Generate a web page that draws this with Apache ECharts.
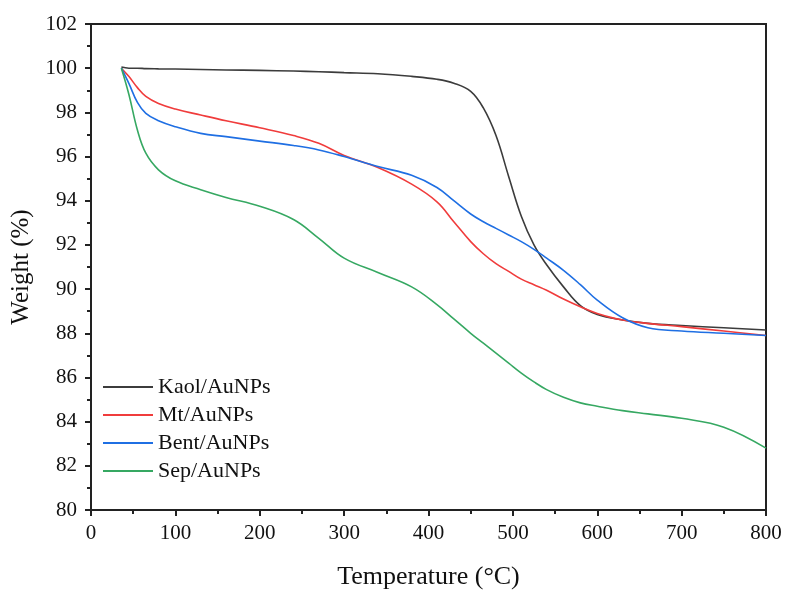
<!DOCTYPE html>
<html lang="en">
<head>
    <meta charset="UTF-8">
    <title>TGA</title>
    <script src="https://cdn.jsdelivr.net/npm/echarts@6/dist/echarts.min.js"></script>
    <style>
        html, body { margin: 0; padding: 0; background: #fff; }
        #main { width: 787px; height: 595px; }
    </style>
</head>
<body>
<div id="main"></div>
<script>
// temperature (°C) shared by all curves
var temps = [36, 45, 55, 65, 80, 100, 130, 160, 200, 240, 270, 300, 340, 380, 410, 430, 450, 465, 480, 495, 510, 525, 540, 560, 580, 600, 630, 660, 700, 750, 800];
// weight (%)
var kaol = [100.05, 100.0, 100.0, 99.98, 99.97, 99.96, 99.94, 99.92, 99.9, 99.87, 99.84, 99.8, 99.75, 99.63, 99.5, 99.32, 98.95, 98.2, 96.95, 95.1, 93.3, 92.0, 91.1, 90.1, 89.25, 88.85, 88.6, 88.45, 88.35, 88.25, 88.15];
var mt   = [100.0, 99.62, 99.12, 98.72, 98.4, 98.15, 97.88, 97.62, 97.3, 96.95, 96.6, 96.05, 95.5, 94.75, 93.95, 93.05, 92.15, 91.6, 91.15, 90.8, 90.45, 90.2, 89.95, 89.55, 89.2, 88.9, 88.6, 88.45, 88.3, 88.1, 87.9];
var bent = [100.0, 99.3, 98.45, 97.95, 97.62, 97.35, 97.05, 96.9, 96.7, 96.5, 96.3, 96.0, 95.55, 95.15, 94.6, 94.0, 93.4, 93.05, 92.75, 92.45, 92.15, 91.8, 91.4, 90.85, 90.2, 89.5, 88.7, 88.25, 88.1, 88.0, 87.9];
var sep  = [100.0, 98.8, 97.2, 96.15, 95.4, 94.9, 94.5, 94.15, 93.75, 93.15, 92.3, 91.4, 90.75, 90.1, 89.3, 88.65, 88.0, 87.55, 87.1, 86.65, 86.2, 85.8, 85.45, 85.1, 84.85, 84.7, 84.5, 84.35, 84.15, 83.75, 82.8];

var names = ['Kaol/AuNPs', 'Mt/AuNPs', 'Bent/AuNPs', 'Sep/AuNPs'];
var colors = ['#3c3c3c', '#f03c3c', '#1f6fe3', '#36a862'];

function pairs(ys) {
    var out = [];
    for (var i = 0; i < temps.length; i++) { out.push([temps[i], ys[i]]); }
    return out;
}

var font = 'Liberation Serif';
var allData = [kaol, mt, bent, sep];
var series = [];
for (var i = 0; i < names.length; i++) {
    series.push({
        name: names[i],
        type: 'line',
        data: pairs(allData[i]),
        smooth: 0.4,
        showSymbol: false,
        lineStyle: { width: 1.6, color: colors[i] },
        itemStyle: { color: colors[i] }
    });
}

var chart = echarts.init(document.getElementById('main'));
chart.setOption({
    animation: false,
    grid: { left: 91, right: 21, top: 24, bottom: 85, show: true, borderColor: '#222', borderWidth: 2 },
    legend: {
        data: names,
        orient: 'vertical',
        left: 98,
        top: 371,
        itemWidth: 50,
        itemHeight: 2,
        itemGap: 6,
        icon: 'rect',
        textStyle: { fontFamily: font, fontSize: 22, color: '#111' }
    },
    xAxis: {
        type: 'value',
        min: 0, max: 800, interval: 100,
        name: 'Temperature (°C)',
        nameLocation: 'middle',
        nameGap: 54,
        nameTextStyle: { fontFamily: font, fontSize: 26, color: '#111' },
        axisLine: { lineStyle: { color: '#222', width: 2 } },
        axisTick: { inside: false, length: 6, lineStyle: { width: 2, color: '#222' } },
        minorTick: { show: true, splitNumber: 2, length: 4, lineStyle: { width: 2, color: '#222' } },
        axisLabel: { fontFamily: font, fontSize: 21, color: '#111', margin: 13 },
        splitLine: { show: false }
    },
    yAxis: {
        type: 'value',
        min: 80, max: 102, interval: 2,
        name: 'Weight (%)',
        nameLocation: 'middle',
        nameGap: 57,
        nameTextStyle: { fontFamily: font, fontSize: 25, color: '#111' },
        axisLine: { show: true, lineStyle: { color: '#222', width: 2 } },
        axisTick: { show: true, inside: false, length: 6, lineStyle: { width: 2, color: '#222' } },
        minorTick: { show: true, splitNumber: 2, length: 4, lineStyle: { width: 2, color: '#222' } },
        axisLabel: { fontFamily: font, fontSize: 21, color: '#111', margin: 14 },
        splitLine: { show: false }
    },
    series: series
});
</script>
</body>
</html>
